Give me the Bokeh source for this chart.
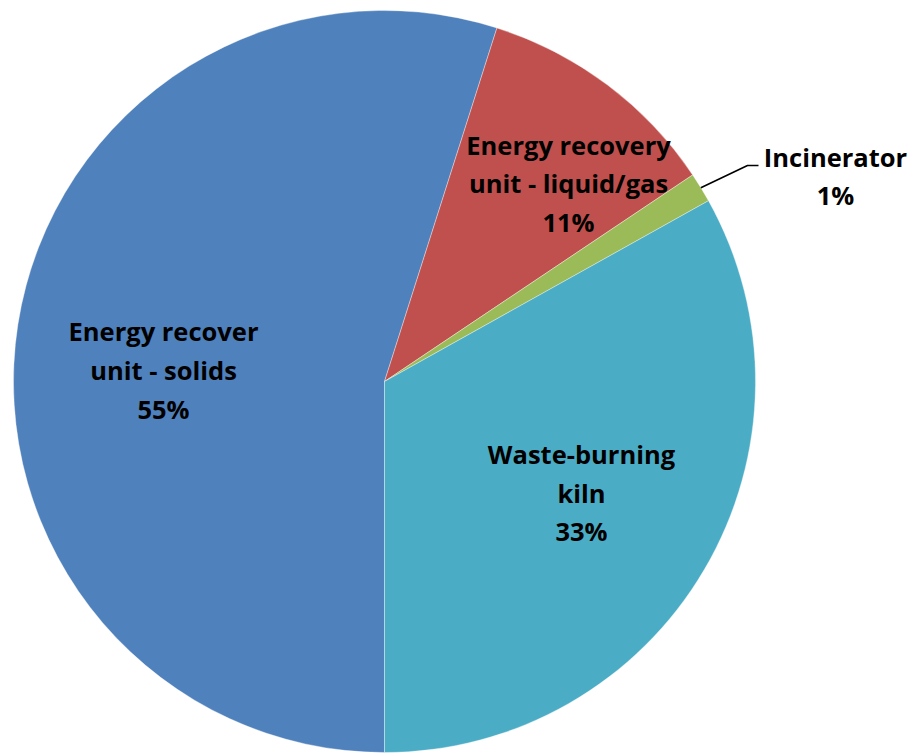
import math
from bokeh.plotting import figure
from bokeh.models import Range1d, ColumnDataSource
from bokeh.embed import file_html
from bokeh.resources import INLINE
from bokeh.core.properties import value

# ---- data ----
categories = ["Energy recover unit - solids", "Energy recovery unit - liquid/gas",
              "Incinerator", "Waste-burning kiln"]
shares = [54.9, 10.7, 1.3, 33.1]
pct_labels = ["55%", "11%", "1%", "33%"]
label_lines = [["Energy recover", "unit - solids"],
               ["Energy recovery", "unit - liquid/gas"],
               ["Incinerator"],
               ["Waste-burning", "kiln"]]
colors = ["#4F81BD", "#C0504D", "#9BBB59", "#4BACC6"]

# ---- layout (pixel coordinates, y downwards) ----
PW, PH = 916, 754
CX, CY, R = 384, 381, 371
START = 180.0               # first slice starts at 6 o'clock, clockwise
label_anchor = [(163, 340.7), (568, 154), (835, 166), (581, 463.3)]  # centre x, first baseline
BASE_SHIFT = -10
LINE_SP = 38.7
FONT = "Open Sans"
FSIZE = "25.5px"


def fy(y):
    return PH - y


p = figure(width=PW, height=PH, x_range=Range1d(0, PW), y_range=Range1d(0, PH),
           output_backend="svg", toolbar_location=None,
           x_axis_type=None, y_axis_type=None, min_border=0)
p.grid.visible = False
p.outline_line_color = None
p.background_fill_color = "white"
p.border_fill_color = "white"

total = sum(shares)
starts, ends, mids = [], [], []
th = START
for s in shares:
    te = th + 360.0 * s / total
    starts.append(math.radians(90 - th))
    ends.append(math.radians(90 - te))
    mids.append((th + te) / 2)
    th = te

src = ColumnDataSource(dict(x=[CX] * len(shares), y=[fy(CY)] * len(shares),
                            start=starts, end=ends, color=colors, name=categories))
p.wedge(x="x", y="y", radius=R, start_angle="start", end_angle="end",
        direction="clock", fill_color="color", line_color="white",
        line_alpha=0.45, line_width=0.8, source=src)

# leader line for the small slice
gi = 2
m = math.radians(mids[gi])
sx, sy = CX + R * math.sin(m), CY - R * math.cos(m)
p.line(x=[sx, 747, 758], y=[fy(sy), fy(165), fy(165)], line_color="black", line_width=1.6)

# labels
tx, ty, tt = [], [], []
for i, lines in enumerate(label_lines):
    allines = lines + [pct_labels[i]]
    cx, b0 = label_anchor[i]
    for k, t in enumerate(allines):
        tx.append(cx)
        ty.append(fy(b0 + BASE_SHIFT + k * LINE_SP))
        tt.append(t)
p.text(x=tx, y=ty, text=tt, text_align="center", text_baseline="alphabetic",
       text_font=value(FONT), text_font_style="bold",
       text_font_size=FSIZE, text_color="black")

open("out.html", "w").write(file_html(p, INLINE))
